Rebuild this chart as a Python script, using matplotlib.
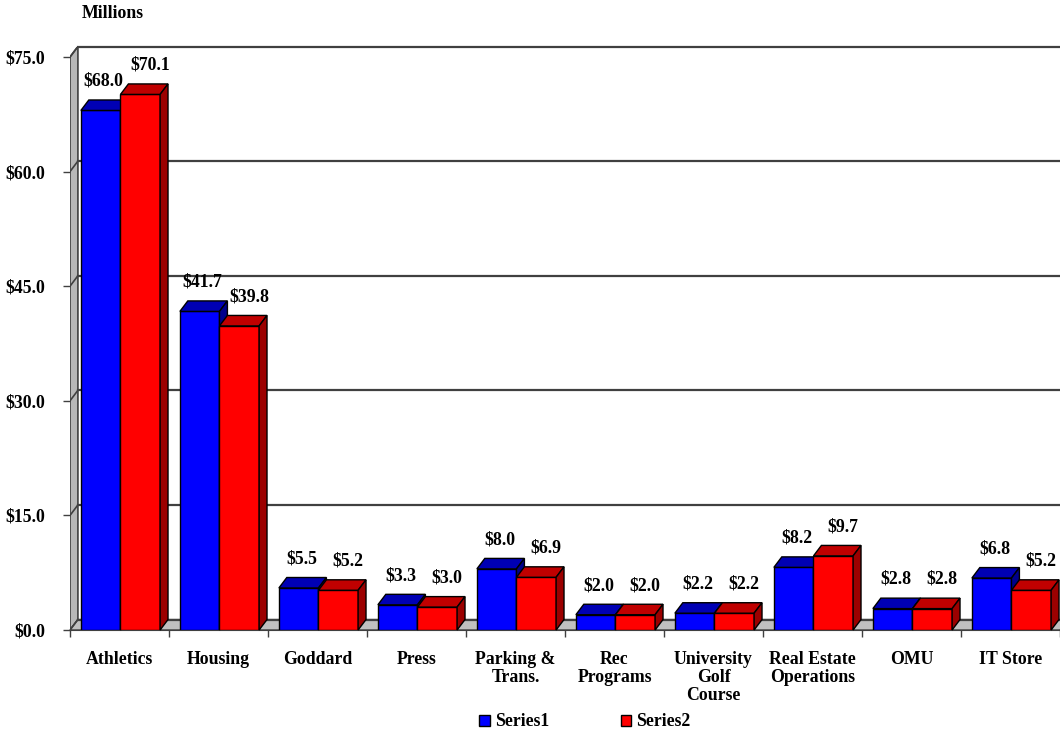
import matplotlib.pyplot as plt
import numpy as np
from matplotlib.patches import Polygon, Patch

plt.rcParams['font.family'] = ['Liberation Serif', 'DejaVu Serif']
plt.rcParams['font.weight'] = 'bold'

# data
categories = ['Athletics', 'Housing', 'Goddard', 'Press', 'Parking &\nTrans.',
              'Rec\nPrograms', 'University\nGolf\nCourse', 'Real Estate\nOperations',
              'OMU', 'IT Store']
series1 = [68.0, 41.7, 5.5, 3.3, 8.0, 2.0, 2.2, 8.2, 2.8, 6.8]
series2 = [70.1, 39.8, 5.2, 3.0, 6.9, 2.0, 2.2, 9.7, 2.8, 5.2]
yticks = [0, 15, 30, 45, 60, 75]

n = len(categories)
ymax = 75
dx = 0.08      # depth offset in category units
dy = 1.37      # depth offset in value units
bw = 0.40      # bar width
off1 = 0.11    # left edge of blue bar in category
fs = 12.8

fig = plt.figure(figsize=(10.6, 7.35), dpi=100)
ax = fig.add_axes([70 / 1060, 105 / 735, 990 / 1060, 583.5 / 735])
ax.set_xlim(0, n)
ax.set_ylim(0, ymax + dy)

# back wall, left wall, floor
ax.add_patch(Polygon([(0, 0), (dx, dy), (dx, ymax + dy), (0, ymax)],
                     closed=True, fc='#b8b8b8', ec='#404040', lw=1.2, zorder=1))
ax.add_patch(Polygon([(0, 0), (n, 0), (n + dx, dy), (dx, dy)],
                     closed=True, fc='#c0c0c0', ec='#404040', lw=1.0, zorder=1, clip_on=False))
for v in yticks:
    ax.plot([dx, n + dx], [v + dy, v + dy], color='#404040', lw=1.6, zorder=1.5, clip_on=False)
    ax.plot([0, dx], [v, v + dy], color='#404040', lw=1.2, zorder=1.5)


def bar3d(x0, h, front, top, side):
    ax.bar(x0, h, width=bw, align='edge', color=front, edgecolor='black', lw=1.0, zorder=3)
    ax.add_patch(Polygon([(x0, h), (x0 + dx, h + dy), (x0 + bw + dx, h + dy), (x0 + bw, h)],
                         closed=True, fc=top, ec='black', lw=1.0, zorder=3))
    ax.add_patch(Polygon([(x0 + bw, 0), (x0 + bw + dx, dy), (x0 + bw + dx, h + dy), (x0 + bw, h)],
                         closed=True, fc=side, ec='black', lw=1.0, zorder=3, clip_on=False))


for i in range(n):
    xb = i + off1
    xr = xb + bw
    bar3d(xb, series1[i], '#0000ff', '#0000b4', '#00008c')
    bar3d(xr, series2[i], '#ff0000', '#c00000', '#9c0000')
    ax.annotate(f'${series1[i]:.1f}', (xb + bw / 2, series1[i]), xytext=(2, 21),
                textcoords='offset points', ha='center', va='center', fontsize=fs, zorder=5)
    ax.annotate(f'${series2[i]:.1f}', (xr + bw / 2, series2[i]), xytext=(7, 21),
                textcoords='offset points', ha='center', va='center', fontsize=fs, zorder=5,
                annotation_clip=False)

# axes decoration
for s in ['left', 'right', 'top']:
    ax.spines[s].set_visible(False)
ax.spines['bottom'].set_color('#404040')
ax.spines['bottom'].set_zorder(2)

ax.set_xticks(np.arange(n) + 0.5)
ax.set_xticklabels(categories, fontsize=fs, linespacing=1.1, va='top')
ax.tick_params(axis='x', which='major', length=0, pad=15)
ax.set_xticks(np.arange(n + 1), minor=True)
ax.tick_params(axis='x', which='minor', length=5, width=1, color='#404040', direction='out')

ax.set_yticks(yticks)
ax.set_yticklabels([f'${v:.1f}' for v in yticks], fontsize=fs)
ax.tick_params(axis='y', length=5, width=1, color='#404040', direction='out', pad=13)

fig.text(82 / 1060, 1 - 14 / 735, 'Millions', fontsize=fs, ha='left', va='center')

handles = [Patch(fc='#0000ff', ec='black', lw=1.0), Patch(fc='#ff0000', ec='black', lw=1.0)]
fig.legend(handles, ['Series1', 'Series2'], loc='center', bbox_to_anchor=(585 / 1060, 1 - 722 / 735),
           ncol=2, frameon=False, fontsize=fs, handlelength=0.6, handleheight=0.6,
           handletextpad=0.3, columnspacing=4.0)

fig.savefig('out.png', dpi=100)
